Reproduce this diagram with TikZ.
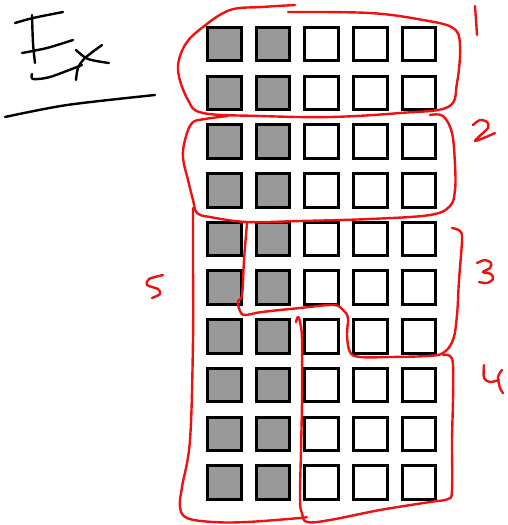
\documentclass[tikz,border=0pt]{standalone}
\definecolor{cellgray}{HTML}{999999}
\definecolor{penred}{HTML}{F01010}
\begin{document}
\begin{tikzpicture}[x=1pt,y=-1pt,
  cell/.style={draw=black, line width=3pt, minimum size=33.5pt, inner sep=0pt, outer sep=0pt},
  shaded/.style={cell, fill=cellgray},
  plain/.style={cell, fill=white},
  loop/.style={draw=penred, line width=2.4pt, line cap=round, line join=round},
  ink/.style={draw=black, line width=2.4pt, line cap=round, line join=round}]
\useasboundingbox (0,0) rectangle (507,525);
% grid of squares
\foreach \r in {0,...,9}{
  \foreach \c in {0,1}{
    \node[shaded] (s\r\c) at ({224.3+48.7*\c},{44.2+48.7*\r}) {};
  }
  \foreach \c in {2,3,4}{
    \node[plain] (s\r\c) at ({224.3+48.7*\c},{44.2+48.7*\r}) {};
  }
}
% "Ex" and underline
\draw[ink] plot[smooth] coordinates {(15,23) (33,18) (63,12)};
\draw[ink] plot[smooth] coordinates {(32,15) (33,43) (35,63)};
\draw[ink] plot[smooth] coordinates {(22,53) (47,48) (73,40)};
\draw[ink] plot[smooth] coordinates {(32,74) (33,79) (50,77) (82,65)};
\draw[ink] plot[smooth] coordinates {(76,50) (88,59) (109,63)};
\draw[ink] plot[smooth] coordinates {(102,45) (85,58) (78,68) (76,80)};
\draw[ink] plot[smooth] coordinates {(5,117) (67,105) (155,95)};
% group 1
\draw[loop] plot[smooth, tension=0.6] coordinates {(295,5) (262,7) (230,10) (203,27) (185,45) (178,70) (188,100) (203,113) (260,116) (330,117) (400,113) (448,107) (457,83) (460,45) (453,28) (423,20) (370,13) (288,12)};
% group 2
\draw[loop] plot[smooth, tension=0.6] coordinates {(228,116) (205,119) (192,123) (185,140) (183,158) (188,180) (193,200) (197,213) (210,217) (247,222) (300,221) (370,219) (430,215) (450,206) (455,190) (455,165) (452,133) (443,116) (430,115)};
% group 3
\draw[loop] plot[smooth, tension=0.6] coordinates {(452,228) (460,231) (462,240) (459,280) (457,315) (453,340) (443,353) (427,356) (390,357) (360,357) (350,352) (347,335) (348,318) (343,310) (333,305) (300,308) (262,312) (245,315) (240,311) (238,301) (242,295) (244,260) (246,235) (247,223)};
% group 4
\draw[loop] plot[smooth, tension=0.6] coordinates {(443,355) (450,356) (453,365) (453,400) (452,440) (452,490) (448,499) (430,502) (380,510) (330,520) (307,522) (302,513) (300,500) (301,450) (302,400) (302,340) (300,322) (298,317) (296,322)};
% group 5
\draw[loop] plot[smooth, tension=0.6] coordinates {(193,208) (193,260) (193,340) (190,440) (182,487) (180,507) (187,518) (213,522) (247,522) (300,518) (306,517)};
% labels
\draw[loop] plot[smooth] coordinates {(475,6) (476,20) (477,35)};
\draw[loop] plot[smooth, tension=0.5] coordinates {(473,125) (480,120) (487,122) (488,128) (475,141) (495,133)};
\draw[loop] plot[smooth, tension=0.5] coordinates {(477,263) (485,260) (491,263) (490,268) (483,272) (491,274) (493,279) (487,283) (479,282)};
\draw[loop] plot[smooth, tension=0.5] coordinates {(484,365) (484,378) (490,382) (499,380)};
\draw[loop] plot[smooth, tension=0.5] coordinates {(502,370) (498,377) (500,388) (503,393)};
\draw[loop] plot[smooth, tension=0.5] coordinates {(163,275) (149,279) (147,285) (158,289) (160,294) (152,298)};
\end{tikzpicture}
\end{document}
